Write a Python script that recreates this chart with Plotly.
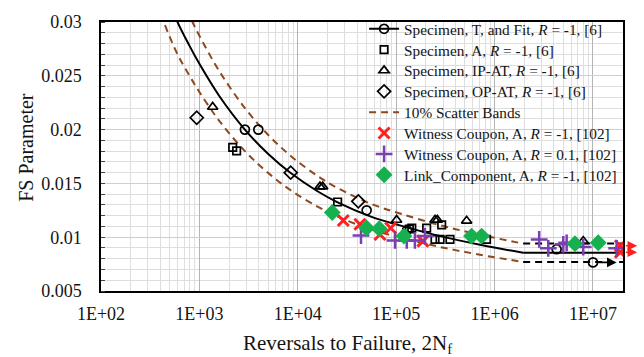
import math
import plotly.graph_objects as go

# ---- data -------------------------------------------------------------
# fitted FS-life curve (finite-life part), then the flat endurance branch
fit_n = [447, 592, 794, 1000, 1585, 2900, 5010, 8470, 15850, 25400, 56200,
         109000, 279000, 711000, 1950000]
fit_fs = [0.0330, 0.0301, 0.02778, 0.02611, 0.02315, 0.0200, 0.01773, 0.01596,
          0.01427, 0.01324, 0.01189, 0.0111, 0.0101, 0.0093, 0.00855]
limit_n = [1950000, 20200000]
limit_fs = [0.00855, 0.00855]
SCATTER = 0.10

spec_t_n = [2900, 3970, 50100, 129000, 4270000]
spec_t_fs = [0.0200, 0.0200, 0.0125, 0.01064, 0.00888]
spec_t_runout_n = [10000000]
spec_t_runout_fs = [0.00766]

spec_a_n = [2180, 2390, 25400, 136000, 144000, 204000, 290000, 248000,
            279000, 352000, 828000]
spec_a_fs = [0.01834, 0.01803, 0.01327, 0.01076, 0.01085, 0.01085, 0.01115,
             0.00979, 0.00979, 0.00979, 0.00979]

ip_at_n = [1365, 16800, 17900, 101000, 248000, 262000, 520000, 7960000]
ip_at_fs = [0.0221, 0.0147, 0.0147, 0.0116, 0.0116, 0.0116, 0.01152, 0.00964]

op_at_n = [940, 8470, 41200]
op_at_fs = [0.0211, 0.0160, 0.01333]

wc_m1_n = [29000, 42800, 68400, 87900, 187000]
wc_m1_fs = [0.01155, 0.0112, 0.01025, 0.01085, 0.00964]
wc_m1_runout_n = [19000000, 19000000]
wc_m1_runout_fs = [0.0092, 0.0086]

wc_01_n = [43900, 97300, 128000, 155000, 196000, 2840000, 3510000, 4990000,
           5400000, 7960000, 17400000]
wc_01_fs = [0.01016, 0.0097, 0.0097, 0.0097, 0.0101, 0.00979, 0.00897,
            0.00934, 0.00948, 0.00909, 0.00897]

link_n = [22400, 50000, 67300, 120000, 583000, 738000, 6560000, 11300000]
link_fs = [0.0123, 0.01085, 0.01079, 0.0101, 0.0101, 0.0101, 0.0094, 0.00948]

x_ticks = [1e2, 1e3, 1e4, 1e5, 1e6, 1e7]
x_tick_text = ["1E+02", "1E+03", "1E+04", "1E+05", "1E+06", "1E+07"]
y_ticks = [0.005, 0.01, 0.015, 0.02, 0.025, 0.03]
y_tick_text = ["0.005", "0.01", "0.015", "0.02", "0.025", "0.03"]

# ---- styling ----------------------------------------------------------
SERIF = "Liberation Serif, Times New Roman, serif"
BROWN = "#8c4a1e"
RED = "#ff2020"
PURPLE = "#7a3fb0"
GREEN = "#17b04f"
TXT = "#141414"

# one legend box per entry, stacked down the upper-right corner
LEGEND_X = 0.504
LEGEND_ROW0 = 0.9745     # paper y of the first row
LEGEND_STEP = 0.0775     # paper height of one row
LEGEND_IDS = ["legend", "legend2", "legend3", "legend4",
              "legend5", "legend6", "legend7", "legend8"]

upper_fs = [v * (1 + SCATTER) for v in fit_fs]
lower_fs = [v * (1 - SCATTER) for v in fit_fs]
upper_lim = [v * (1 + SCATTER) for v in limit_fs]
lower_lim = [v * (1 - SCATTER) for v in limit_fs]

fig = go.Figure()

# scatter bands
fig.add_trace(go.Scatter(x=fit_n, y=upper_fs, mode="lines",
                         line=dict(color=BROWN, width=2, dash="7px,5px", shape="spline"),
                         name="10% Scatter Bands", legend=LEGEND_IDS[4]))
fig.add_trace(go.Scatter(x=fit_n, y=lower_fs, mode="lines",
                         line=dict(color=BROWN, width=2, dash="7px,5px", shape="spline"),
                         showlegend=False))
for yy in (upper_lim, lower_lim):
    fig.add_trace(go.Scatter(x=limit_n, y=yy, mode="lines",
                             line=dict(color="black", width=2, dash="7px,5px"),
                             showlegend=False))

# fit curve
fig.add_trace(go.Scatter(x=fit_n, y=fit_fs, mode="lines",
                         line=dict(color="black", width=2, shape="spline"),
                         showlegend=False))
fig.add_trace(go.Scatter(x=limit_n, y=limit_fs, mode="lines",
                         line=dict(color="black", width=2),
                         showlegend=False))

open_line = dict(width=1.7)

# specimen T (legend entry shows line + marker)
fig.add_trace(go.Scatter(x=[None], y=[None], mode="lines+markers",
                         line=dict(color="black", width=2),
                         marker=dict(symbol="circle-open", size=9, color="black", line=open_line),
                         name="Specimen, T, and Fit, <i>R</i> = -1, [6]", legend=LEGEND_IDS[0]))
fig.add_trace(go.Scatter(x=spec_t_n + spec_t_runout_n, y=spec_t_fs + spec_t_runout_fs,
                         mode="markers",
                         marker=dict(symbol="circle-open", size=9, color="black", line=open_line),
                         showlegend=False))

fig.add_trace(go.Scatter(x=spec_a_n, y=spec_a_fs, mode="markers",
                         marker=dict(symbol="square-open", size=7.5, color="black", line=open_line),
                         name="Specimen, A, <i>R</i> = -1, [6]", legend=LEGEND_IDS[1]))
fig.add_trace(go.Scatter(x=ip_at_n, y=ip_at_fs, mode="markers",
                         marker=dict(symbol="triangle-up-open", size=9, color="black", line=open_line),
                         name="Specimen, IP-AT, <i>R</i> = -1, [6]", legend=LEGEND_IDS[2]))
fig.add_trace(go.Scatter(x=op_at_n, y=op_at_fs, mode="markers",
                         marker=dict(symbol="diamond-open", size=10, color="black", line=open_line),
                         name="Specimen, OP-AT, <i>R</i> = -1, [6]", legend=LEGEND_IDS[3]))

fig.add_trace(go.Scatter(x=wc_m1_n + wc_m1_runout_n, y=wc_m1_fs + wc_m1_runout_fs, mode="markers",
                         marker=dict(symbol="x-thin", size=11, color=RED,
                                     line=dict(width=3, color=RED)),
                         name="Witness Coupon, A, <i>R</i> = -1, [102]", legend=LEGEND_IDS[5]))
fig.add_trace(go.Scatter(x=wc_01_n, y=wc_01_fs, mode="markers",
                         marker=dict(symbol="cross-thin", size=12, color=PURPLE,
                                     line=dict(width=2.5, color=PURPLE)),
                         name="Witness Coupon, A, <i>R</i> = 0.1, [102]", legend=LEGEND_IDS[6]))
fig.add_trace(go.Scatter(x=link_n, y=link_fs, mode="markers",
                         marker=dict(symbol="diamond", size=13, color=GREEN, line=dict(width=0)),
                         name="Link_Component, A, <i>R</i> = -1, [102]", legend=LEGEND_IDS[7]))

# run-out arrows (annotation positions on a log axis are given in log10)
arrows = []
for n, fs in zip(spec_t_runout_n, spec_t_runout_fs):
    arrows.append(dict(x=math.log10(n) + 0.24, y=fs, ax=math.log10(n), ay=fs,
                       xref="x", yref="y", axref="x", ayref="y", text="",
                       showarrow=True, arrowhead=2, arrowsize=1.2, arrowwidth=1.6,
                       arrowcolor="black", startstandoff=4))
for n, fs in zip(wc_m1_runout_n, wc_m1_runout_fs):
    arrows.append(dict(x=math.log10(n) + 0.17, y=fs, ax=math.log10(n), ay=fs,
                       xref="x", yref="y", axref="x", ayref="y", text="",
                       showarrow=True, arrowhead=2, arrowsize=1.2, arrowwidth=1.6,
                       arrowcolor=RED, startstandoff=4))

titles = [
    dict(text="Reversals to Failure, 2N<sub>f</sub>", xref="paper", yref="paper",
         x=0.473, y=-0.196, xanchor="center", yanchor="middle", showarrow=False,
         font=dict(family=SERIF, size=21, color=TXT)),
    dict(text="FS Parameter", xref="paper", yref="paper", textangle=-90,
         x=-0.1437, y=0.536, xanchor="center", yanchor="middle", showarrow=False,
         font=dict(family=SERIF, size=20, color=TXT)),
]

# white panel behind the legend (sits over the grid, under the data)
legend_panel = dict(type="rect", xref="paper", yref="paper",
                    x0=LEGEND_X, x1=1, y0=0.385, y1=1,
                    fillcolor="white", line=dict(width=0), layer="between")

legend_boxes = {}
for i, lid in enumerate(LEGEND_IDS):
    legend_boxes[lid] = dict(x=LEGEND_X, y=LEGEND_ROW0 - i * LEGEND_STEP,
                             xanchor="left", yanchor="middle",
                             bgcolor="rgba(0,0,0,0)", borderwidth=0,
                             font=dict(family=SERIF, size=15.3, color=TXT),
                             itemwidth=30)

fig.update_layout(
    width=644, height=357,
    margin=dict(l=101, r=21, t=16, b=66),
    paper_bgcolor="white", plot_bgcolor="white",
    font=dict(family=SERIF, size=18, color=TXT),
    showlegend=True,
    annotations=arrows + titles,
    shapes=[legend_panel],
    **legend_boxes,
)

fig.update_xaxes(type="log", range=[2, 7.305],
                 tickmode="array", tickvals=x_ticks, ticktext=x_tick_text,
                 showgrid=True, gridcolor="#b4b4b4", gridwidth=1,
                 minor=dict(dtick="D1", showgrid=True, gridcolor="#dedede", ticks=""),
                 showline=True, linecolor="black", linewidth=1.5, mirror=True,
                 ticks="", ticklabelstandoff=6, zeroline=False)
fig.update_yaxes(range=[0.005, 0.03],
                 tickmode="array", tickvals=y_ticks, ticktext=y_tick_text,
                 showgrid=True, gridcolor="#cfcfcf", gridwidth=1,
                 minor=dict(dtick=0.001, showgrid=True, gridcolor="#dedede",
                            ticks="inside", ticklen=4, tickcolor="#444"),
                 showline=True, linecolor="black", linewidth=1.5, mirror=True,
                 ticks="", ticklabelstandoff=14, zeroline=False)

fig.write_html("out.html")
